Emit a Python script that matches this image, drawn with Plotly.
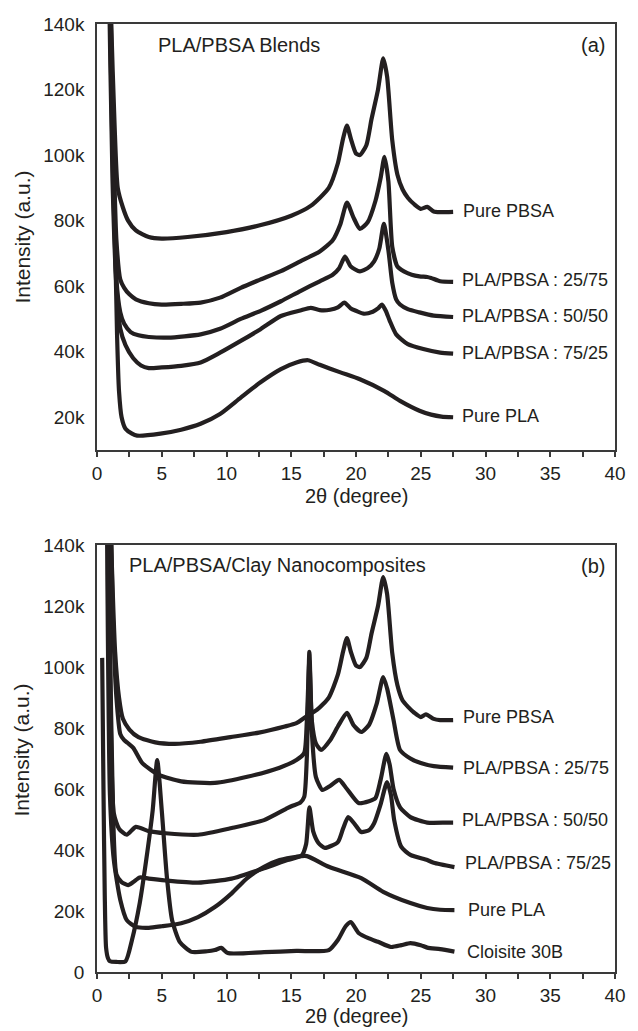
import plotly.graph_objects as go

# ---------------- Panel (a): PLA/PBSA blends ----------------
a_pbsa_x = [0.55, 0.8, 1.1, 1.35, 1.6, 2.0, 2.4, 3.0, 4.0, 5.0, 7.0, 10.0, 12.5, 15.0, 16.5, 17.9, 18.6, 19.0, 19.3, 19.6, 20.0, 20.3, 20.8, 21.2, 21.7, 22.1, 22.4, 22.8, 23.2, 23.6, 24.0, 24.5, 25.0, 25.5, 26.0, 26.5, 27.5]
a_pbsa_y = [260, 190, 140, 110, 90, 84, 80, 77, 75, 74.5, 75, 76.5, 78.5, 81.5, 84.5, 90, 97.5, 105, 109, 105, 100.5, 100, 103, 111, 120, 129.5, 124, 104.5, 94, 89.5, 87, 85, 83.6, 84.2, 82.8, 82.6, 82.7]

a_2575_x = [0.6, 0.9, 1.2, 1.5, 1.8, 2.1, 2.5, 3.0, 4.0, 5.0, 6.5, 8.0, 9.5, 11.1, 12.6, 14.2, 15.7, 17.2, 18.2, 18.8, 19.3, 19.8, 20.3, 20.9, 21.5, 21.9, 22.2, 22.5, 22.8, 23.2, 23.7, 24.3, 24.9, 25.5, 25.8, 26.5, 27.5]
a_2575_y = [260, 180, 115, 74, 62, 59.5, 57.5, 56, 54.8, 54.4, 54.6, 55, 56.5, 59.5, 62, 64.6, 67.6, 70.6, 74, 79, 85.5, 81, 77.5, 79.5, 86, 93, 99.5, 92, 72, 66, 64.5, 63.5, 63, 62.8, 62.5, 61.5, 61.3]

a_5050_x = [0.6, 0.9, 1.2, 1.5, 1.8, 2.1, 2.6, 3.2, 4.0, 5.5, 8.0, 9.5, 11.1, 12.6, 14.2, 15.7, 17.2, 18.2, 18.7, 19.15, 19.6, 20.3, 20.9, 21.4, 21.8, 22.15, 22.5, 22.8, 23.1, 23.4, 24.0, 24.9, 26.0, 27.5]
a_5050_y = [260, 170, 100, 62, 52, 48.5, 46, 45, 44.5, 44.3, 45.3, 47, 50, 52.4, 55.4, 58.5, 61.5, 63.5, 65.5, 69, 66, 64.5, 65.5, 67.6, 71.5, 79, 71, 61, 56, 54.4, 53, 52, 51, 50.6]

a_7525_x = [0.6, 0.9, 1.2, 1.5, 1.8, 2.2, 2.8, 3.4, 4.0, 5.0, 6.5, 8.0, 9.5, 11.1, 12.6, 14.2, 15.7, 16.5, 17.2, 18.0, 18.6, 19.1, 19.6, 20.0, 20.6, 21.3, 21.7, 22.0, 22.3, 22.6, 23.1, 24.0, 25.2, 26.5, 27.5]
a_7525_y = [260, 160, 92, 60, 47, 42, 38, 35.8, 35, 35.2, 35.7, 36.7, 39.7, 43.3, 46.8, 50.9, 52.6, 53.4, 52.7, 52.8, 53.5, 55, 53.2, 52.5, 51.6, 52.2, 53.2, 54.4, 52.5, 49.5, 45.3, 42.3, 40.8, 39.7, 39.4]

a_pla_x = [0.6, 0.9, 1.2, 1.4, 1.55, 1.7, 1.9, 2.2, 2.7, 3.1, 4.9, 6.5, 8.0, 9.5, 11.1, 12.6, 14.2, 15.4, 16.3, 17.2, 18.8, 20.3, 22.2, 23.4, 24.9, 25.8, 26.6, 27.5]
a_pla_y = [260, 170, 110, 74, 45, 28, 20, 16.5, 15, 14.4, 15, 16.2, 18, 21, 26, 30.6, 34.7, 36.7, 37.4, 36, 33.7, 31.6, 28, 25, 22, 20.8, 20.2, 20]

# ---------------- Panel (b): PLA/PBSA/clay nanocomposites ----------------
b_pbsa_x = [0.55, 0.8, 1.1, 1.4, 1.7, 2.0, 2.5, 3.2, 4.5, 6.0, 8.0, 10.3, 12.5, 14.5, 15.4, 16.1, 17.0, 17.9, 18.6, 19.0, 19.3, 19.6, 20.0, 20.3, 20.8, 21.2, 21.7, 22.1, 22.4, 22.8, 23.2, 23.6, 24.0, 24.5, 25.0, 25.4, 26.0, 26.5, 27.5]
b_pbsa_y = [260, 190, 140, 105, 90, 83, 79.5, 77, 75.3, 74.8, 75.5, 77, 78.5, 80.5, 81.6, 83.6, 86, 90, 97.5, 105, 109.5, 105, 100.5, 100, 103, 111, 120, 129.5, 124, 104.5, 94, 89, 87, 85, 83.6, 84.5, 83, 82.6, 82.6]

b_2575_x = [0.6, 0.9, 1.2, 1.5, 1.8, 2.1, 2.4, 2.8, 3.5, 4.8, 6.5, 9.1, 11.6, 14.1, 15.4, 16.0, 16.2, 16.4, 16.6, 16.9, 17.3, 18.0, 18.6, 19.3, 19.8, 20.4, 21.0, 21.6, 22.1, 22.4, 22.9, 23.4, 24.2, 25.0, 26.0, 27.5]
b_2575_y = [260, 190, 120, 90, 78, 76, 75, 73.5, 68.5, 64.6, 62.5, 62, 64, 67, 69.5, 71.8, 82, 102, 82, 75, 72.8, 76, 80.5, 85, 81, 78.7, 81, 88, 96.7, 93, 82.6, 72.8, 70, 68.5, 67.5, 67]

b_5050_x = [0.6, 0.8, 1.0, 1.3, 1.7, 2.3, 3.0, 4.0, 5.3, 7.8, 10.4, 12.9, 14.7, 15.1, 15.7, 16.0, 16.2, 16.4, 16.6, 16.9, 17.4, 18.0, 18.7, 19.3, 20.2, 21.0, 21.5, 21.9, 22.35, 22.6, 22.9, 23.4, 24.2, 25.5, 27.0, 27.5]
b_5050_y = [260, 170, 100, 52, 47, 45, 47.6, 46.2, 45.5, 45, 47.2, 49.8, 53.7, 54.5, 55.5, 57.4, 70, 105, 78, 64, 59.7, 61, 63, 60, 55.4, 56, 57, 63, 71.5, 68, 60, 54, 50.8, 49, 49, 49]

b_7525_x = [0.6, 0.8, 1.0, 1.2, 1.5, 1.9, 2.4, 2.8, 3.3, 4.0, 5.3, 7.8, 10.4, 12.9, 14.7, 15.8, 16.15, 16.4, 16.7, 17.1, 17.6, 18.6, 19.0, 19.4, 19.9, 20.4, 21.0, 21.4, 21.9, 22.4, 22.7, 22.95, 23.5, 24.2, 25.5, 26.0, 27.6]
b_7525_y = [260, 180, 110, 60, 32, 29.5, 28.5, 29.5, 31, 30.6, 30, 29.3, 30.6, 34, 36.7, 38.2, 42, 54, 46, 42.3, 40.7, 42.6, 47, 50.8, 48.5, 45.9, 46.5, 48.8, 55, 62.3, 58, 49.8, 41, 38.4, 36.7, 35.8, 34.4]

b_pla_x = [0.6, 0.8, 1.0, 1.3, 1.8, 2.3, 3.0, 4.0, 5.0, 6.5, 7.8, 9.1, 10.4, 11.6, 12.9, 14.1, 15.4, 16.2, 17.9, 20.4, 22.1, 24.2, 25.5, 26.5, 27.6]
b_pla_y = [260, 130, 58, 36.7, 23.6, 17, 14.8, 14.5, 15, 16, 18, 21.3, 25.8, 30.8, 34.5, 36.7, 37.8, 38, 34.5, 30.8, 26.3, 22.6, 21, 20.4, 20.3]

b_clo_x = [0.4, 0.5, 0.6, 0.7, 0.85, 1.0, 1.5, 2.2, 2.7, 3.3, 3.8, 4.3, 4.65, 5.0, 5.4, 5.8, 6.4, 7.3, 8.5, 9.1, 9.6, 10.1, 12.9, 15.4, 17.9, 18.6, 19.2, 19.6, 20.2, 21.0, 21.7, 22.7, 23.5, 24.2, 25.0, 25.5, 26.5, 27.6]
b_clo_y = [103, 60, 25, 8, 4.5, 3.5, 3.3, 3.5, 10.5, 22.6, 36.7, 53, 69.5, 53, 31, 17, 9.8, 6.6, 6.8, 7.2, 7.9, 6.2, 6.5, 6.9, 7.2, 10.5, 15, 16.4, 12.8, 11, 9.9, 8.2, 8.8, 9.5, 8.8, 8, 7.5, 6.7]

# labels
a_labels = ["Pure PBSA", "PLA/PBSA : 25/75", "PLA/PBSA : 50/50", "PLA/PBSA : 75/25", "Pure PLA"]
a_label_y = [83, 62, 50.9, 39.7, 20.5]
a_label_x = [28.1, 28.0, 28.0, 28.0, 28.0]
b_labels = ["Pure PBSA", "PLA/PBSA : 25/75", "PLA/PBSA : 50/50", "PLA/PBSA : 75/25", "Pure PLA", "Cloisite 30B"]
b_label_y = [83.6, 67, 49.8, 35.7, 20.3, 6.7]
b_label_x = [28.1, 28.1, 28.0, 28.3, 28.5, 28.4]

y_tickvals_a = [20, 40, 60, 80, 100, 120, 140]
y_tickvals_b = [0, 20, 40, 60, 80, 100, 120, 140]

K = 1000.0
LINE = "#231f20"
FONT = "Liberation Sans, Arial, sans-serif"

fig = go.Figure()

def add(xs, ys, xa, ya):
    fig.add_trace(go.Scatter(
        x=xs, y=[v * K for v in ys], mode="lines",
        line=dict(color=LINE, width=4.2, shape="spline", smoothing=0.6),
        xaxis=xa, yaxis=ya, showlegend=False, hoverinfo="skip", cliponaxis=True))

for xs, ys in [(a_pla_x, a_pla_y), (a_7525_x, a_7525_y), (a_5050_x, a_5050_y),
               (a_2575_x, a_2575_y), (a_pbsa_x, a_pbsa_y)]:
    add(xs, ys, "x", "y")
for xs, ys in [(b_clo_x, b_clo_y), (b_pla_x, b_pla_y), (b_7525_x, b_7525_y),
               (b_5050_x, b_5050_y), (b_2575_x, b_2575_y), (b_pbsa_x, b_pbsa_y)]:
    add(xs, ys, "x2", "y2")

def tk(v):
    return "0" if v == 0 else f"{v}k"

xaxis_common = dict(
    range=[0, 40], dtick=5, tick0=0, ticks="outside", ticklen=5, tickwidth=1.5,
    tickcolor="#3a3a3a", showline=True, linecolor="#3a3a3a", linewidth=1.5, mirror=True,
    showgrid=False, zeroline=False,
    tickfont=dict(family=FONT, size=19, color="#231f20"),
    minor=dict(dtick=2.5, tick0=0, ticks="outside", ticklen=5, tickwidth=1.5, tickcolor="#3a3a3a", showgrid=False),
    ticklabelstandoff=0,
)
yaxis_common = dict(
    ticks="", showline=True, linecolor="#3a3a3a", linewidth=1.5, mirror=True,
    showgrid=False, zeroline=False,
    tickfont=dict(family=FONT, size=19, color="#231f20"),
    ticklabelstandoff=7,
)

fig.update_layout(
    width=638, height=1031,
    margin=dict(l=97, r=12, t=24, b=59),
    paper_bgcolor="white", plot_bgcolor="white",
    xaxis=dict(domain=[0, 1], anchor="y", **xaxis_common),
    yaxis=dict(domain=[0.5506, 1], anchor="x", range=[10 * K, 140 * K],
               tickvals=[v * K for v in y_tickvals_a], ticktext=[tk(v) for v in y_tickvals_a],
               **yaxis_common),
    xaxis2=dict(domain=[0, 1], anchor="y2", **xaxis_common),
    yaxis2=dict(domain=[0, 0.4504], anchor="x2", range=[0, 140 * K],
                tickvals=[v * K for v in y_tickvals_b], ticktext=[tk(v) for v in y_tickvals_b],
                **yaxis_common),
)

ann = []
lab_font = dict(family=FONT, size=18, color="#231f20")
title_font = dict(family=FONT, size=20, color="#231f20")
for t, x, y in zip(a_labels, a_label_x, a_label_y):
    ann.append(dict(text=t, x=x, y=y * K, xref="x", yref="y", xanchor="left", yanchor="middle",
                    showarrow=False, font=lab_font))
for t, x, y in zip(b_labels, b_label_x, b_label_y):
    ann.append(dict(text=t, x=x, y=y * K, xref="x2", yref="y2", xanchor="left", yanchor="middle",
                    showarrow=False, font=lab_font))
ann += [
    dict(text="PLA/PBSA Blends", x=4.55, y=133.6 * K, xref="x", yref="y", xanchor="left",
         yanchor="middle", showarrow=False, font=title_font),
    dict(text="(a)", x=38.3, y=133.6 * K, xref="x", yref="y", xanchor="center",
         yanchor="middle", showarrow=False, font=title_font),
    dict(text="PLA/PBSA/Clay Nanocomposites", x=2.35, y=133.4 * K, xref="x2", yref="y2",
         xanchor="left", yanchor="middle", showarrow=False, font=title_font),
    dict(text="(b)", x=38.3, y=133.0 * K, xref="x2", yref="y2", xanchor="center",
         yanchor="middle", showarrow=False, font=title_font),
    dict(text="Intensity (a.u.)", x=-0.1456, y=0.7753, xref="paper", yref="paper",
         textangle=-90, xanchor="center", yanchor="middle", showarrow=False,
         font=dict(family=FONT, size=21, color="#231f20")),
    dict(text="Intensity (a.u.)", x=-0.1456, y=0.2342, xref="paper", yref="paper",
         textangle=-90, xanchor="center", yanchor="middle", showarrow=False,
         font=dict(family=FONT, size=21, color="#231f20")),
    dict(text="2θ (degree)", x=0.5, y=0.5021, xref="paper", yref="paper",
         xanchor="center", yanchor="middle", showarrow=False, font=title_font),
    dict(text="2θ (degree)", x=0.5, y=-0.0465, xref="paper", yref="paper",
         xanchor="center", yanchor="middle", showarrow=False, font=title_font),
]
fig.update_layout(annotations=ann)

fig.write_html("out.html")
